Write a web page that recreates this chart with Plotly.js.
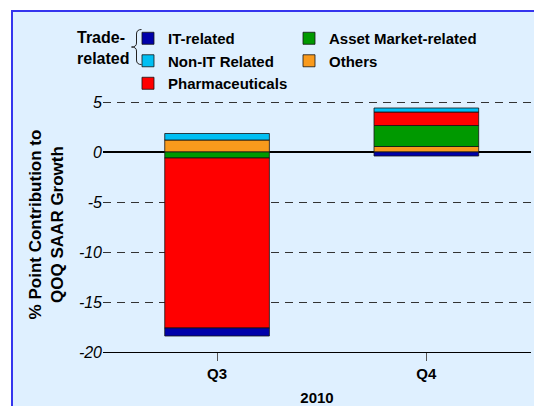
<!DOCTYPE html>
<html>
<head>
<meta charset="utf-8">
<script src="https://cdn.plot.ly/plotly-3.0.1.min.js"></script>
<style>
  html, body { margin:0; padding:0; background:#ffffff; overflow:hidden; width:534px; height:406px; }
  #wrap { position:absolute; left:11px; top:10px; width:530px; height:400px;
          border-left:2px solid #3535EE; border-top:2px solid #3535EE; background:#DFF0FF; }
  #chart { width:521px; height:394px; }
</style>
</head>
<body>
<div id="wrap"><div id="chart"></div></div>
<script>
// ---- data ----
var categories = ['Q3', 'Q4'];
var itRelated = [-0.8, -0.4];
var nonItRelated = [0.65, 0.4];
var pharmaceuticals = [-17.0, 1.35];
var assetMarket = [-0.6, 2.1];
var others = [1.2, 0.55];
var yTickVals = [-20, -15, -10, -5, 0, 5];
var yTickText = ['-20', '-15', '-10', '-5', '0', '5'];

var lineStyle = {color: 'rgba(20,20,20,0.8)', width: 1};
function bar(name, vals, color, rank, leg) {
  return {type: 'bar', name: name, x: categories, y: vals, width: 0.5, legendrank: rank,
          legend: leg, marker: {color: color, line: lineStyle}, hoverinfo: 'name+y'};
}
// trace order controls stacking order
var data = [
  bar('Others', others, '#F99A1C', 2, 'legend2'),
  bar('Asset Market-related', assetMarket, '#009900', 1, 'legend2'),
  bar('Pharmaceuticals', pharmaceuticals, '#FF0000', 3, 'legend'),
  bar('Non-IT Related', nonItRelated, '#00BFF3', 2, 'legend'),
  bar('IT-related', itRelated, '#0000AA', 1, 'legend')
];

var FONT = 'Liberation Sans, Arial, sans-serif';
var legFont = {family: FONT, size: 15, weight: 'bold', color: '#000'};
var layout = {
  width: 521, height: 394,
  margin: {l: 90, r: 3, t: 85, b: 54},
  paper_bgcolor: 'rgba(0,0,0,0)',
  plot_bgcolor: 'rgba(0,0,0,0)',
  barmode: 'relative',
  showlegend: true,
  font: {family: FONT, color: '#000'},
  legend: {
    orientation: 'v', x: 0.0584, y: 1.294, xanchor: 'left', yanchor: 'top',
    font: legFont, bgcolor: 'rgba(0,0,0,0)', borderwidth: 0, traceorder: 'normal'
  },
  legend2: {
    orientation: 'v', x: 0.4346, y: 1.294, xanchor: 'left', yanchor: 'top',
    font: legFont, bgcolor: 'rgba(0,0,0,0)', borderwidth: 0, traceorder: 'normal'
  },
  xaxis: {
    type: 'category', range: [-0.545, 1.5], fixedrange: true,
    showgrid: false, zeroline: false, showline: true, linecolor: '#000', linewidth: 1,
    ticks: 'outside', ticklen: 8, tickcolor: '#555', tickwidth: 1, ticklabelstandoff: 0,
    tickfont: {family: FONT, size: 15, weight: 'bold', color: '#000'},
    title: {text: '2010', font: {family: FONT, size: 15, weight: 'bold', color: '#000'}, standoff: 19}
  },
  yaxis: {
    range: [-20, 5.5], tickvals: yTickVals, ticktext: yTickText.map(function (t) { return '<i>' + t + '</i>'; }),
    fixedrange: true,
    showgrid: true, gridcolor: '#333', gridwidth: 1, griddash: '8px,6px',
    zeroline: true, zerolinecolor: '#000', zerolinewidth: 1.2,
    showline: false, ticks: '',
    tickfont: {family: FONT, size: 16, style: 'italic', color: '#000'},
    title: {text: '% Point Contribution to<br>QOQ SAAR Growth',
            font: {family: FONT, size: 17, weight: 'bold', color: '#000'}, standoff: 10}
  },
  annotations: [{
    xref: 'paper', yref: 'paper', x: -0.0654, y: 1.275, xanchor: 'left', yanchor: 'top',
    text: 'Trade-<br>related', align: 'left', showarrow: false,
    font: {family: FONT, size: 16, weight: 'bold', color: '#000'}
  }],
  shapes: [{
    type: 'path', xref: 'paper', yref: 'paper',
    xsizemode: 'pixel', ysizemode: 'pixel', xanchor: 0.0783, yanchor: 1.196,
    path: 'M 5,17.5 Q 0,17.5 0,13 L 0,4 Q 0,0 -5,0 Q 0,0 0,-4 L 0,-13 Q 0,-17.5 5,-17.5',
    line: {color: '#222', width: 1}
  }]
};

Plotly.newPlot('chart', data, layout, {displayModeBar: false, staticPlot: true});
</script>
</body>
</html>
